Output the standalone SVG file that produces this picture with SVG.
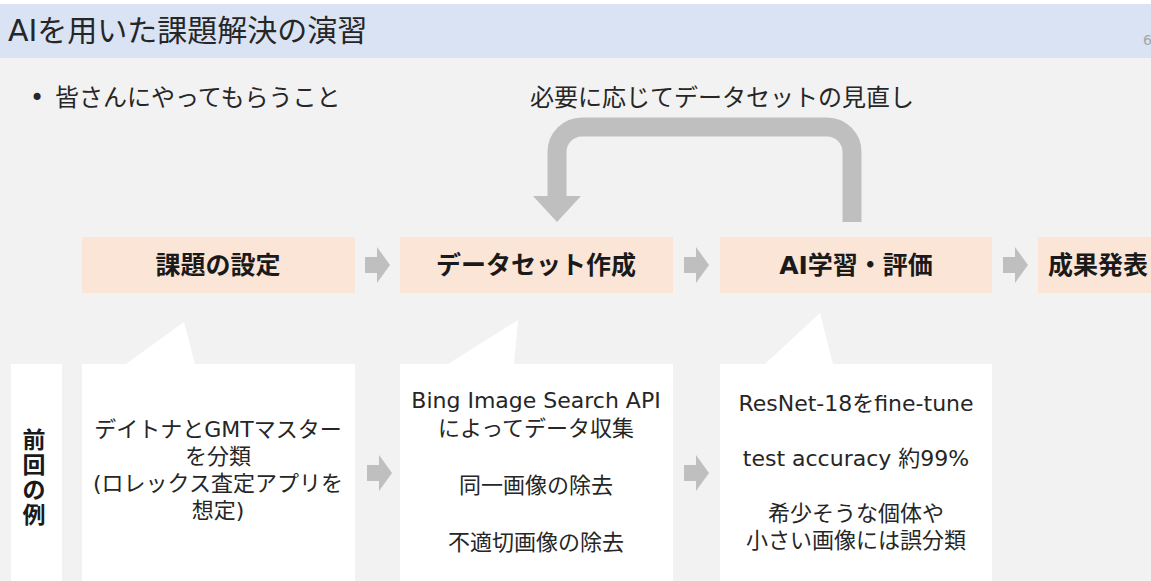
<svg xmlns="http://www.w3.org/2000/svg" width="1151" height="581" viewBox="0 0 1151 581">
<defs>
<style>
.t{font-family:'DejaVu Sans','Noto Sans CJK JP',sans-serif;fill:#262626}
.b{font-weight:bold;font-size:25px;text-anchor:middle;fill:#1a1a1a}
.c{font-size:22px;text-anchor:middle}
.box{fill:#fbe5d6}
.callout{fill:#ffffff}
.arr{fill:#bfbfbf}
</style>
</defs>
<rect x="0" y="0" width="1151" height="581" fill="#f2f2f2"/>
<rect x="0" y="0" width="1151" height="4" fill="#ffffff"/>
<rect x="0" y="4" width="1151" height="54" fill="#dae3f3"/>
<text class="t" x="8" y="41" font-size="30">AIを用いた課題解決の演習</text>
<text class="t" x="1143" y="45" font-size="14" style="fill:#a6a6a6">6</text>
<text class="t" x="30" y="106" font-size="24">•<tspan x="55">皆さんにやってもらうこと</tspan></text>
<text class="t" x="722" y="106" font-size="24" text-anchor="middle">必要に応じてデータセットの見直し</text>

<g id="connectors">
<path d="M852 222 V152 A25 25 0 0 0 827 127 H582 A25 25 0 0 0 557 152 V197" fill="none" stroke="#bfbfbf" stroke-width="19"/>
<polygon class="arr" points="533,196 581,196 557,222"/>
<polygon class="arr" points="365,257 377,257 377,247 390,265 377,283 377,273 365,273"/>
<polygon class="arr" points="684,257 696,257 696,247 709,265 696,283 696,273 684,273"/>
<polygon class="arr" points="1003,257 1015,257 1015,247 1028,265 1015,283 1015,273 1003,273"/>
<polygon class="arr" points="367,465 379,465 379,455 392,473 379,491 379,481 367,481"/>
<polygon class="arr" points="684,465 696,465 696,455 709,473 696,491 696,481 684,481"/>
</g>

<g id="step1"><rect class="box" x="82" y="237" width="273" height="56"/><text class="t b" x="218" y="274">課題の設定</text></g>
<g id="step2"><rect class="box" x="400" y="237" width="273" height="56"/><text class="t b" x="536" y="274">データセット作成</text></g>
<g id="step3"><rect class="box" x="720" y="237" width="272" height="56"/><text class="t b" x="856" y="274">AI学習・評価</text></g>
<g id="step4"><rect class="box" x="1038" y="237" width="113" height="56"/><text class="t b" x="1098" y="274">成果発表</text></g>

<g id="label-prev"><rect class="callout" x="11" y="364" width="51" height="220"/>
<text class="t" font-size="23" font-weight="bold" text-anchor="middle" style="fill:#1a1a1a"><tspan x="34" y="448">前</tspan><tspan x="34" y="473">回</tspan><tspan x="34" y="498">の</tspan><tspan x="34" y="523">例</tspan></text></g>

<g id="example1"><path class="callout" d="M82 364 H126 L184 322 L195 364 H355 V585 H82 Z"/>
<text class="t c"><tspan x="218" y="437">デイトナとGMTマスター</tspan><tspan x="218" y="464">を分類</tspan><tspan x="218" y="491">(ロレックス査定アプリを</tspan><tspan x="218" y="518">想定)</tspan></text></g>

<g id="example2"><path class="callout" d="M400 364 H448 L518 320 L514 364 H673 V585 H400 Z"/>
<text class="t c"><tspan x="536" y="408">Bing Image Search API</tspan><tspan x="536" y="436">によってデータ収集</tspan><tspan x="536" y="493">同一画像の除去</tspan><tspan x="536" y="550">不適切画像の除去</tspan></text></g>

<g id="example3"><path class="callout" d="M720 364 H765 L820 313 L833 364 H992 V585 H720 Z"/>
<text class="t c"><tspan x="856" y="411">ResNet-18をfine-tune</tspan><tspan x="856" y="466">test accuracy 約99%</tspan><tspan x="856" y="521">希少そうな個体や</tspan><tspan x="856" y="548">小さい画像には誤分類</tspan></text></g>
</svg>
